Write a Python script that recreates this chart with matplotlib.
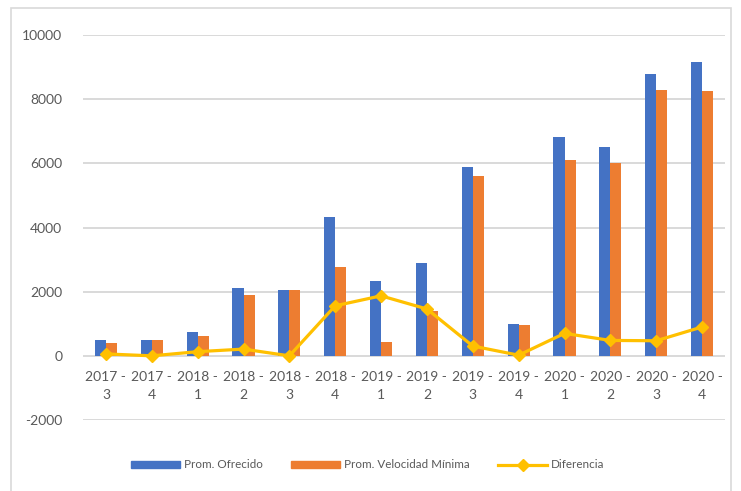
import matplotlib
matplotlib.use("Agg")
import matplotlib.pyplot as plt
import numpy as np
from matplotlib.patches import Rectangle
from matplotlib.lines import Line2D

categories = ["2017 -\n3", "2017 -\n4", "2018 -\n1", "2018 -\n2", "2018 -\n3", "2018 -\n4",
              "2019 -\n1", "2019 -\n2", "2019 -\n3", "2019 -\n4", "2020 -\n1", "2020 -\n2",
              "2020 -\n3", "2020 -\n4"]
prom_ofrecido = [480, 500, 750, 2115, 2040, 4340, 2320, 2885, 5900, 1000, 6830, 6500, 8800, 9170]
prom_vel_min = [410, 500, 610, 1885, 2040, 2780, 440, 1410, 5590, 960, 6115, 6000, 8300, 8250]
diferencia = [60, 0, 130, 210, 0, 1560, 1870, 1460, 305, 20, 700, 480, 470, 900]
yticks = [-2000, 0, 2000, 4000, 6000, 8000, 10000]

plt.rcParams['font.family'] = ['Lato', 'DejaVu Sans']

fig = plt.figure(figsize=(7.41, 4.91), dpi=100)
W, H = 741, 491
ax = fig.add_axes([83 / W, 1 - 420 / H, (725 - 83) / W, (420 - 35) / H])

x = np.arange(len(categories))
bw = 0.24
ax.bar(x - bw / 2, prom_ofrecido, width=bw, color="#4472C4", zorder=2, label="Prom. Ofrecido")
ax.bar(x + bw / 2, prom_vel_min, width=bw, color="#ED7D31", zorder=2, label="Prom. Velocidad Mínima")
ax.plot(x, diferencia, color="#FFC000", lw=2.3, marker="D", markersize=6.5,
        zorder=3, label="Diferencia")

ax.set_xlim(-0.5, len(categories) - 0.5)
ax.set_ylim(-2000, 10000)
ax.set_yticks(yticks)
ax.set_yticklabels([str(v) for v in yticks], fontsize=10, color="#595959")
ax.grid(axis="y", color="#d9d9d9", lw=1.4, zorder=0)
ax.set_axisbelow(True)
for s in ax.spines.values():
    s.set_visible(False)
ax.tick_params(axis="both", length=0)
ax.tick_params(axis="y", pad=15)
ax.set_xticks(x)
ax.set_xticklabels([])

# category labels sit just below the zero line
for i, c in enumerate(categories):
    ax.text(i, -480, c, ha="center", va="top", fontsize=10, color="#595959",
            linespacing=1.55)

handles = [Rectangle((0, 0), 1, 1, color="#4472C4"),
           Rectangle((0, 0), 1, 1, color="#ED7D31"),
           Line2D([0], [0], color="#FFC000", lw=2.3, marker="D", markersize=6.5)]
labels = ["Prom. Ofrecido", "Prom. Velocidad Mínima", "Diferencia"]
fig.legend(handles, labels, loc="center", bbox_to_anchor=(368 / W, 1 - 465 / H),
           ncol=3, frameon=False, fontsize=8.4, handlelength=4.2, handleheight=0.65,
           columnspacing=2.4, handletextpad=0.35, labelcolor="#595959")

border = Rectangle((11 / W, -0.05), (731 - 11) / W, 1 - 8 / H + 0.05, transform=fig.transFigure,
                   fill=False, edgecolor="#d9d9d9", lw=1.2)
fig.patches.append(border)

fig.savefig("out.png", dpi=100)
